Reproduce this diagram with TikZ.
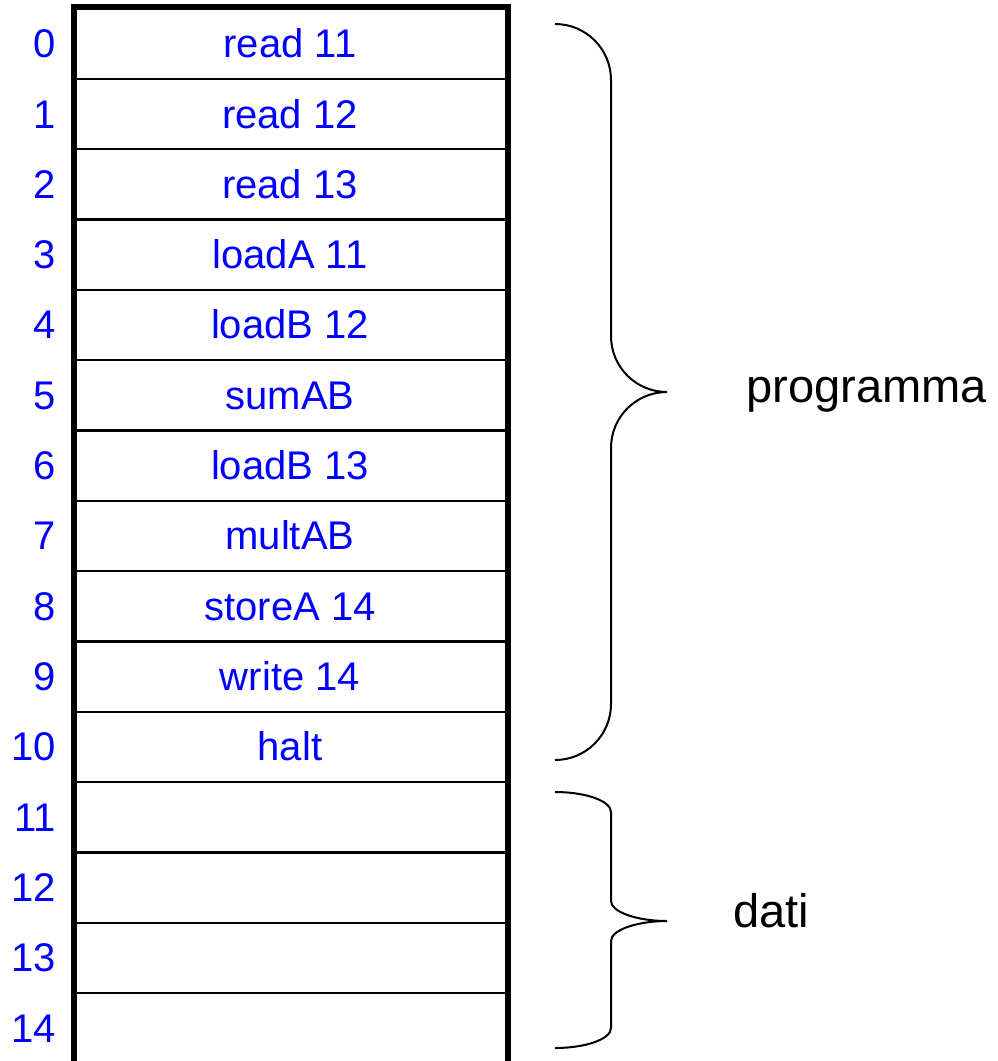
\documentclass[tikz,border=0pt]{standalone}
\usepackage{fontspec}
\setmainfont{Liberation Sans}
\definecolor{memblue}{RGB}{0,0,255}
\begin{document}
\begin{tikzpicture}[x=0.75pt,y=-0.75pt,
  cell/.style={draw=black,line width=1.6pt,rectangle,minimum width=324pt,minimum height=52.75pt,inner sep=0pt},
  celltext/.style={anchor=base,inner sep=0pt,text=memblue,font=\fontsize{30}{32}\selectfont},
  addr/.style={anchor=base east,inner sep=0pt,text=memblue,font=\fontsize{30}{32}\selectfont},
  lbl/.style={anchor=base west,inner sep=0pt,font=\fontsize{35.3}{37}\selectfont},
  brace/.style={draw=black,line width=1.5pt},
  outer/.style={draw=black,line width=4.5pt}]
\useasboundingbox (0,0) rectangle (997,1061);
\def\rh{70.33}
\foreach \i/\t in {0/read 11,1/read 12,2/read 13,3/loadA 11,4/loadB 12,5/sumAB,6/loadB 13,7/multAB,8/storeA 14,9/write 14,10/halt,11/,12/,13/,14/}{
  \pgfmathsetmacro\yc{8.5+\rh*(\i+0.5)}
  \node[cell] (c\i) at (291,\yc) {};
  \node[celltext] (t\i) at (290,\yc+14) {\t};
  \node[addr] (a\i) at (56,\yc+14) {\i};
}
\draw[outer] (c0.north west) -- (c0.north east) -- (c14.south east) -- (c14.south west) -- cycle;
% brace programma
\coordinate (p1) at (555,24);
\coordinate (p2) at (667,392);
\coordinate (p3) at (555,760);
\draw[brace] (p1) .. controls (586,24) and (611,49) .. (611,80) -- (611,336)
  .. controls (611,367) and (636,392) .. (p2)
  .. controls (636,392) and (611,417) .. (611,448) -- (611,704)
  .. controls (611,735) and (586,760) .. (p3);
% brace dati
\coordinate (d1) at (555,792);
\coordinate (d2) at (667,921);
\coordinate (d3) at (555,1048);
\draw[brace] (d1) .. controls (586,792) and (611,801) .. (611,812) -- (611,901)
  .. controls (611,912) and (637,921) .. (d2)
  .. controls (637,921) and (611,930) .. (611,941) -- (611,1028)
  .. controls (611,1039) and (586,1048) .. (d3);
\node[lbl] (lp) at (746,402) {programma};
\node[lbl] (ld) at (733,927) {dati};
\end{tikzpicture}
\end{document}
